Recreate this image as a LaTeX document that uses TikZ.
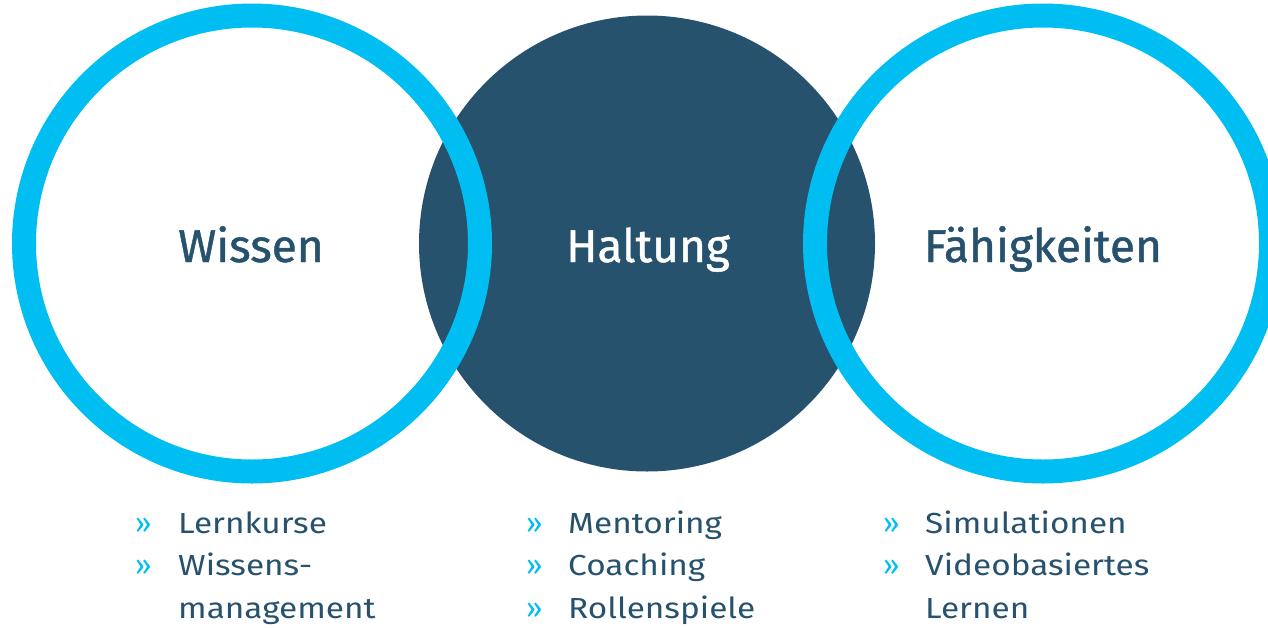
\documentclass[tikz,border=0pt]{standalone}
\usepackage{fontspec}
\setmainfont{Fira Sans}
\newfontfamily\itemfont{Fira Sans}[FakeStretch=1.15]
\newfontfamily\titlefont{Fira Sans}[FakeBold=1]
\definecolor{ringblue}{HTML}{00BEF2}
\definecolor{navy}{HTML}{27526E}
\begin{document}
\begin{tikzpicture}[x=1pt,y=-1pt,
  ring/.style={draw=ringblue,line width=24pt},
  core/.style={fill=navy},
  title/.style={anchor=base,inner sep=0pt,font=\titlefont\fontsize{46}{56}\selectfont},
  item/.style={anchor=base west,inner sep=0pt,text=navy,font=\itemfont\fontsize{29}{35}\selectfont},
  bul/.style={anchor=base west,inner sep=0pt,text=ringblue,font=\fontsize{29}{35}\selectfont}]
\useasboundingbox (0,0) rectangle (1268,627);
% circles
\fill[core] (647,243.5) circle[radius=228pt];
\draw[ring] (252,243.5) circle[radius=228pt];
\draw[ring] (1043,243.5) circle[radius=228pt];
% titles
\node[title,text=navy] (wissen) at (251,262) {Wissen};
\node[title,text=white] (haltung) at (648,262) {Haltung};
\node[title,text=navy] (faehig) at (1043,262) {Fähigkeiten};
% left list
\node[bul] (lb1) at (135,533) {»};
\node[item] (l1) at (178,533) {Lernkurse};
\node[bul] (lb2) at (135,575) {»};
\node[item] (l2) at (178,575) {Wissens-};
\node[item] (l3) at (178,618) {management};
% middle list
\node[bul] (mb1) at (526,533) {»};
\node[item] (m1) at (568,533) {Mentoring};
\node[bul] (mb2) at (526,575) {»};
\node[item] (m2) at (568,575) {Coaching};
\node[bul] (mb3) at (526,618) {»};
\node[item] (m3) at (568,618) {Rollenspiele};
% right list
\node[bul] (rb1) at (883,533) {»};
\node[item] (r1) at (925,533) {Simulationen};
\node[bul] (rb2) at (883,575) {»};
\node[item] (r2) at (925,575) {Videobasiertes};
\node[item] (r3) at (925,618) {Lernen};
\end{tikzpicture}
\end{document}
